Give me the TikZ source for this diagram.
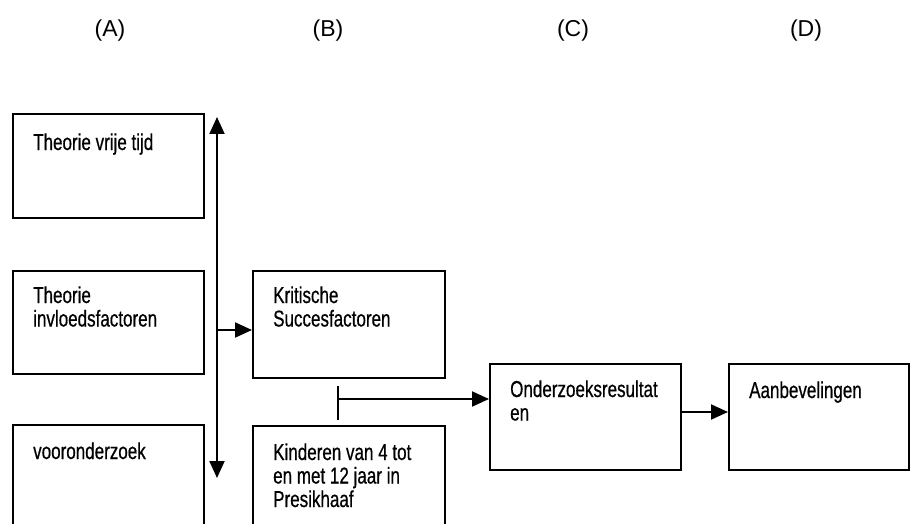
\documentclass[tikz,border=0pt]{standalone}
\usepackage{fontspec}
\setmainfont{Liberation Sans}
\newfontfamily\agency[FakeStretch=0.74,FakeBold=0.6]{Liberation Sans}
\usetikzlibrary{arrows.meta}
\newcommand{\boxlines}[1]{\parbox[t]{200pt}{\raggedright #1}}
\begin{document}
\begin{tikzpicture}[x=1pt,y=-1pt,
  box/.style={draw=black,line width=2pt,rectangle,inner sep=0pt,anchor=north west},
  boxtext/.style={anchor=base west,inner sep=0pt,font=\agency\fontsize{23}{23.5}\selectfont},
  head/.style={font=\fontsize{23}{26}\selectfont,inner sep=0pt},
  tip/.style={Triangle[length=17pt,width=15pt]},
  arr/.style={line width=2pt,-{Triangle[length=17pt,width=15pt]}},
  plain/.style={line width=2pt}]
\useasboundingbox (0,0) rectangle (910,524);
% headers
\node[head] (hA) at (110,31) {(A)};
\node[head] (hB) at (328,31) {(B)};
\node[head] (hC) at (573,31) {(C)};
\node[head] (hD) at (806,31) {(D)};
% boxes
\node[box,minimum width=191pt,minimum height=104pt] (a1) at (12,113) {};
\node[box,minimum width=191pt,minimum height=103pt] (a2) at (12,270) {};
\node[box,minimum width=191pt,minimum height=110pt] (a3) at (12,424) {};
\node[box,minimum width=192pt,minimum height=107pt] (b1) at (252,270) {};
\node[box,minimum width=192pt,minimum height=110pt] (b2) at (252,425) {};
\node[box,minimum width=191pt,minimum height=106pt] (c1) at (489,363) {};
\node[box,minimum width=180pt,minimum height=106pt] (d1) at (728,363) {};
% texts
\node[boxtext] (ta1) at ([xshift=21pt,yshift=-37pt]a1.north west) {\boxlines{Theorie vrije tijd}};
\node[boxtext] (ta2) at ([xshift=21pt,yshift=-33pt]a2.north west) {\boxlines{Theorie\\invloedsfactoren}};
\node[boxtext] (ta3) at ([xshift=21pt,yshift=-35pt]a3.north west) {\boxlines{vooronderzoek}};
\node[boxtext] (tb1) at ([xshift=21pt,yshift=-33pt]b1.north west) {\boxlines{Kritische\\Succesfactoren}};
\node[boxtext] (tb2) at ([xshift=21pt,yshift=-35pt]b2.north west) {\boxlines{Kinderen van 4 tot\\en met 12 jaar in\\Presikhaaf}};
\node[boxtext] (tc1) at ([xshift=21pt,yshift=-34pt]c1.north west) {\boxlines{Onderzoeksresultat\\en}};
\node[boxtext] (td1) at ([xshift=21pt,yshift=-35pt]d1.north west) {\boxlines{Aanbevelingen}};
% connectors
\coordinate (vtop) at (217,117);
\coordinate (vbot) at (217,478);
\coordinate (vmid) at (217,330);
\draw[line width=2pt,{Triangle[length=17pt,width=15pt]}-{Triangle[length=17pt,width=15pt]}] (vtop) -- (vbot);
\draw[arr] (vmid) -- (vmid -| b1.west);
\coordinate (tt) at (338,386);
\coordinate (tb) at (338,420);
\coordinate (tm) at (338,399);
\draw[plain] (tt) -- (tb);
\draw[arr] (tm) -- (tm -| c1.west);
\draw[arr] (c1.east |- 0,412) -- (d1.west |- 0,412);
\end{tikzpicture}
\end{document}
